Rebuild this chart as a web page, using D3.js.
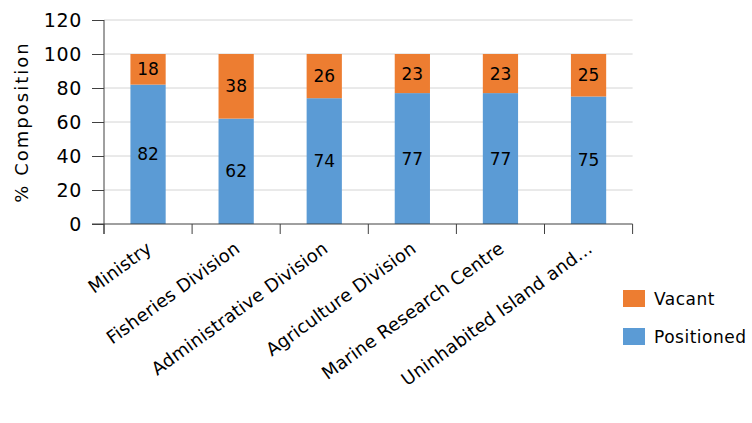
<!DOCTYPE html>
<html>
<head>
<meta charset="utf-8">
<script src="https://cdn.jsdelivr.net/npm/d3@7"></script>
<style>
  body { margin: 0; background: #fff; }
  text { font-family: "DejaVu Sans", Verdana, sans-serif; fill: #000; }
</style>
</head>
<body>
<svg id="chart"></svg>
<script>
// chart data
var categories = ["Ministry", "Fisheries Division", "Administrative Division",
  "Agriculture Division", "Marine Research Centre", "Uninhabited Island and..."];
var positioned = [82, 62, 74, 77, 77, 75];
var vacant = [18, 38, 26, 23, 23, 25];
var yTicks = [0, 20, 40, 60, 80, 100, 120];

var W = 752, H = 423;
var margin = { top: 20, left: 104 };
var width = 632.6 - 104, height = 224 - 20;

var colors = { Positioned: "#5B9BD5", Vacant: "#ED7D31" };

var svg = d3.select("#chart").attr("width", W).attr("height", H);
var g = svg.append("g").attr("transform", "translate(" + margin.left + "," + margin.top + ")");

var x = d3.scaleBand().domain(categories).range([0, width]).paddingInner(0.6).paddingOuter(0.3);
var y = d3.scaleLinear().domain([0, 120]).range([height, 0]);

// gridlines
g.selectAll(".grid").data(yTicks.slice(1)).enter().append("line")
  .attr("x1", 0).attr("x2", width)
  .attr("y1", d => y(d)).attr("y2", d => y(d))
  .attr("stroke", "#d4d4d4").attr("stroke-width", 1);

// stacked bars
var rows = categories.map((c, i) => ({ cat: c, Positioned: positioned[i], Vacant: vacant[i] }));
var stack = d3.stack().keys(["Positioned", "Vacant"])(rows);

var layers = g.selectAll(".layer").data(stack).enter().append("g")
  .attr("fill", d => colors[d.key]);

layers.selectAll("rect").data(d => d).enter().append("rect")
  .attr("x", d => x(d.data.cat))
  .attr("width", x.bandwidth())
  .attr("y", d => y(d[1]))
  .attr("height", d => y(d[0]) - y(d[1]));

layers.selectAll("text").data(d => d).enter().append("text")
  .attr("x", d => x(d.data.cat) + x.bandwidth() / 2)
  .attr("y", d => y((d[0] + d[1]) / 2))
  .attr("dy", "0.36em")
  .attr("text-anchor", "middle")
  .style("font-size", "17px")
  .text(d => d[1] - d[0]);

// y axis
var yAxis = g.append("g").call(d3.axisLeft(y).tickValues(yTicks).tickSize(12).tickPadding(10));
yAxis.select(".domain").attr("stroke", "#404040").attr("d", "M0," + (height + 10) + "V0");
yAxis.selectAll(".tick line").attr("stroke", "#404040");
yAxis.selectAll(".tick text").style("font-size", "19px").style("letter-spacing", "0.7px").attr("fill", "#000");

// x axis with boundary ticks
var xa = g.append("g").attr("transform", "translate(0," + height + ")");
xa.append("line").attr("x1", -12).attr("x2", width).attr("stroke", "#404040");
var step = width / categories.length;
xa.selectAll(".xt").data(d3.range(categories.length + 1)).enter().append("line")
  .attr("x1", d => d * step).attr("x2", d => d * step)
  .attr("y1", 0).attr("y2", 10).attr("stroke", "#404040");

xa.selectAll(".xl").data(categories).enter().append("text")
  .attr("transform", d => "translate(" + (x(d) + x.bandwidth() / 2 + 5) + ",27) rotate(-36)")
  .attr("text-anchor", "end")
  .style("font-size", "18px")
  .style("letter-spacing", "0.2px")
  .text(d => d);

// y label
svg.append("text")
  .attr("transform", "translate(28," + (margin.top + height / 2) + ") rotate(-90)")
  .attr("text-anchor", "middle")
  .style("font-size", "18px")
  .style("letter-spacing", "2px")
  .text("% Composition");

// legend
var legend = svg.append("g").attr("transform", "translate(623,290)");
["Vacant", "Positioned"].forEach(function (k, i) {
  var row = legend.append("g").attr("transform", "translate(0," + i * 38 + ")");
  row.append("rect").attr("width", 22).attr("height", 17).attr("fill", colors[k]);
  row.append("text").attr("x", 31).attr("y", 9).attr("dy", "0.36em")
    .style("font-size", "17px").style("letter-spacing", "0.5px").text(k);
});
</script>
</body>
</html>
